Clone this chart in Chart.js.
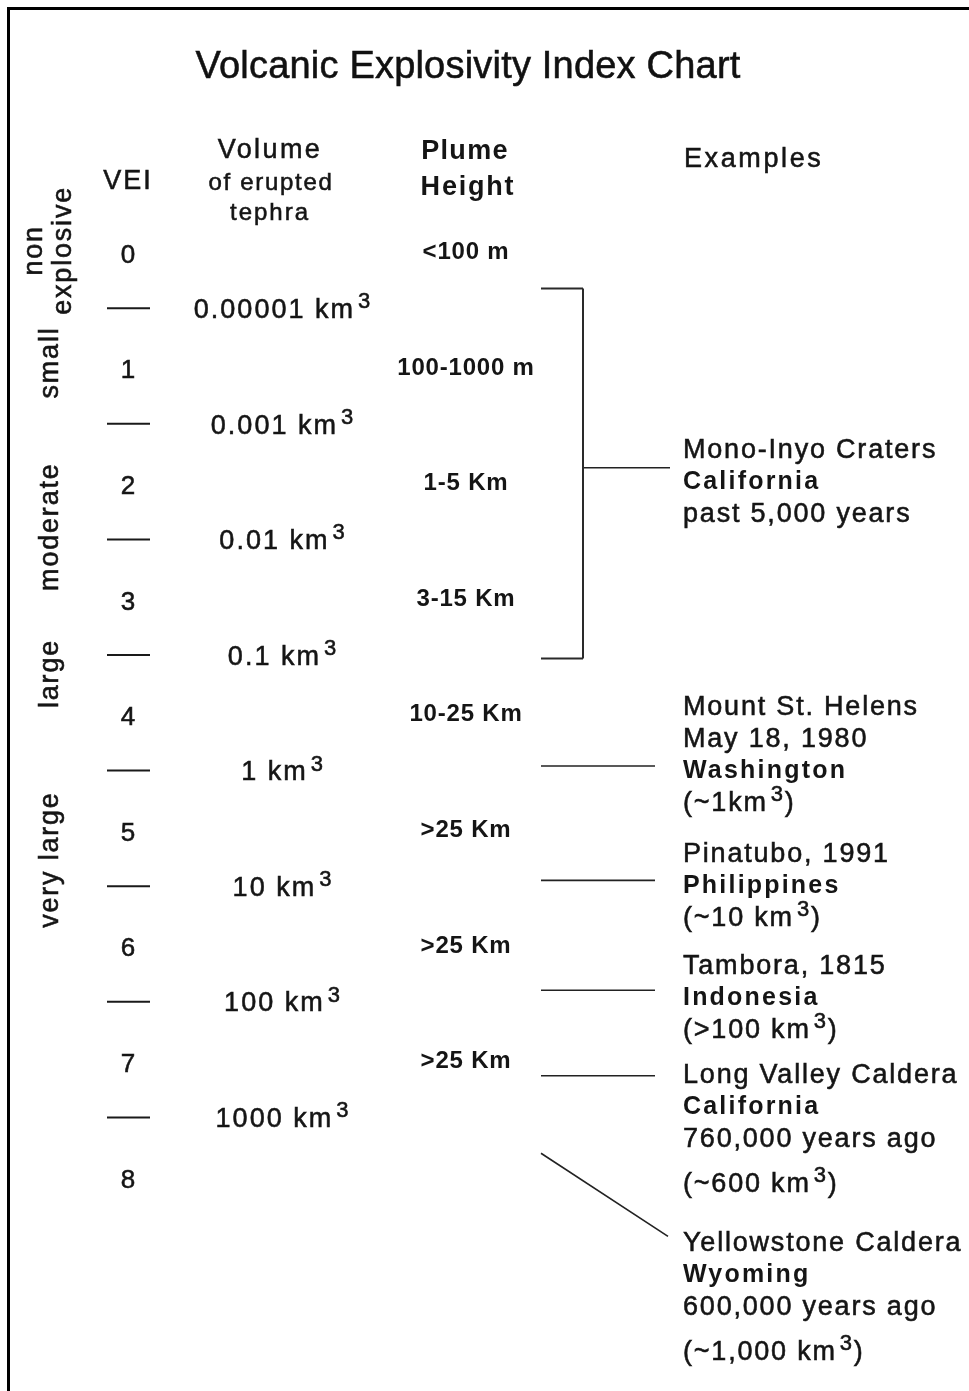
<!DOCTYPE html>
<html>
<head>
<meta charset="utf-8">
<title>Volcanic Explosivity Index Chart</title>
<script src="https://cdn.jsdelivr.net/npm/chart.js@4.4.1/dist/chart.umd.min.js"></script>
<style>
  html, body { margin: 0; padding: 0; background: #fff; }
  #wrap { position: relative; width: 969px; height: 1391px; }
  #frame {
    position: absolute; left: 7px; top: 7px; right: 0; bottom: 0;
    border-left: 3px solid #000; border-top: 3px solid #000;
    pointer-events: none;
  }
</style>
</head>
<body>
<div id="wrap">
  <canvas id="veiChart"></canvas>
  <div id="frame"></div>
</div>
<script>
// ---- data ----
const chartTitle = 'Volcanic Explosivity Index Chart';
const veiLevels = [0, 1, 2, 3, 4, 5, 6, 7, 8];
const sizeClasses = ['non\nexplosive', 'small', 'moderate', 'large', 'very large'];
const sizeClassAt = [0, 0.97, 2.39, 3.66, 5.27];          // VEI where the label is centred
const volumeBounds = [0.5, 1.5, 2.5, 3.5, 4.5, 5.5, 6.5, 7.5];
const volumeLabels = ['0.00001 km^3', '0.001 km^3', '0.01 km^3', '0.1 km^3',
                      '1 km^3', '10 km^3', '100 km^3', '1000 km^3'];
const plumeHeights = ['<100 m', '100-1000 m', '1-5 Km', '3-15 Km',
                      '10-25 Km', '>25 Km', '>25 Km', '>25 Km'];

const exampleNames = ['Mono-Inyo Craters', 'Mount St. Helens', 'Pinatubo, 1991',
                      'Tambora, 1815', 'Long Valley Caldera', 'Yellowstone Caldera'];
const exampleDates = ['', 'May 18, 1980', '', '', '', ''];
const exampleRegions = ['California', 'Washington', 'Philippines', 'Indonesia', 'California', 'Wyoming'];
const exampleAges = ['past 5,000 years', '', '', '', '760,000 years ago', '600,000 years ago'];
const exampleVolumes = ['', '(~1km^3)', '(~10 km^3)', '(>100 km^3)', '(~600 km^3)', '(~1,000 km^3)'];
// where each example's connector meets the scale (VEI units)
const exampleLinkFrom = [1.88, 4.46, 5.45, 6.40, 7.14, 7.81];
const exampleLinkTo = [1.88, 4.46, 5.45, 6.40, 7.14, 8.53];
const exampleSpans = [[0.33, 3.53], null, null, null, null, null];

// ---- layout (positions/styles, not data) ----
const FONT = '"Liberation Sans", Arial, Helvetica, sans-serif';
const INK = '#151515';
const col = {
  classX: 58, classLine1: 42, classLine2: 71,
  vei: 128, dash: [107, 150],
  volume: 283, plume: 466,
  bracket: [541, 583], linkStart: 541, textX: 683
};
const linkEndX = [670, 655, 655, 655, 655, 668];
const exampleTextAt = [1.709, 3.932, 5.204, 6.173, 7.116, 8.569];
const headers = [
  { t: 'VEI',        x: 128, y: -0.617, size: 27, weight: 'normal', sp: 2,   align: 'center' },
  { t: 'Volume',     x: 270, y: -0.886, size: 27, weight: 'normal', sp: 2.4, align: 'center' },
  { t: 'of erupted', x: 271, y: -0.600, size: 24, weight: 'normal', sp: 1.7, align: 'center' },
  { t: 'tephra',     x: 270, y: -0.340, size: 24, weight: 'normal', sp: 2,   align: 'center' },
  { t: 'Plume',      x: 465, y: -0.877, size: 27, weight: 'bold',   sp: 1.3, align: 'center' },
  { t: 'Height',     x: 468, y: -0.566, size: 27, weight: 'bold',   sp: 1.8, align: 'center' },
  { t: 'Examples',   x: 684, y: -0.808, size: 27, weight: 'normal', sp: 2.6, align: 'left' }
];

function seg(x0, y0, x1, y1, width, color) {
  return {
    data: [{ x: x0, y: y0 }, { x: x1, y: y1 }],
    showLine: true, borderColor: color || '#1a1a1a', borderWidth: width || 2,
    pointRadius: 0, pointHoverRadius: 0, fill: false, tension: 0
  };
}

const datasets = [];
volumeBounds.forEach(b => datasets.push(seg(col.dash[0], b, col.dash[1], b, 2)));
exampleNames.forEach((n, i) => {
  const span = exampleSpans[i];
  if (span) {
    datasets.push(seg(col.bracket[0], span[0], col.bracket[1], span[0], 2, '#2a2a2a'));
    datasets.push(seg(col.bracket[1], span[0], col.bracket[1], span[1], 2, '#2a2a2a'));
    datasets.push(seg(col.bracket[1], span[1], col.bracket[0], span[1], 2, '#2a2a2a'));
    datasets.push(seg(col.bracket[1], exampleLinkFrom[i], linkEndX[i], exampleLinkTo[i], 1.6, '#222'));
  } else {
    datasets.push(seg(col.linkStart, exampleLinkFrom[i], linkEndX[i], exampleLinkTo[i], 1.6, '#222'));
  }
});

// text with "^3" superscripts, py = vertical centre of capitals
function drawRich(ctx, str, px, py, o) {
  const size = o.size, weight = o.weight || 'normal';
  const mainFont = weight + ' ' + size + 'px ' + FONT;
  const supFont = weight + ' ' + Math.round(size * 0.8) + 'px ' + FONT;
  const supGap = 3;
  const parts = [];
  str.split('^').forEach((p, i) => {
    if (i === 0) { if (p) parts.push({ t: p, sup: false }); return; }
    parts.push({ t: p[0], sup: true });
    if (p.length > 1) parts.push({ t: p.slice(1), sup: false });
  });
  ctx.letterSpacing = (o.sp || 0) + 'px';
  let total = 0;
  parts.forEach(p => {
    ctx.font = p.sup ? supFont : mainFont;
    p.w = ctx.measureText(p.t).width + (p.sup ? supGap : 0);
    total += p.w;
  });
  let cx = px;
  if (o.align === 'center') cx = px - total / 2;
  const base = py + size * 0.36;
  ctx.textAlign = 'left';
  ctx.textBaseline = 'alphabetic';
  ctx.fillStyle = o.color || INK;
  ctx.strokeStyle = o.color || INK;
  ctx.lineWidth = 0.55;
  parts.forEach(p => {
    ctx.font = p.sup ? supFont : mainFont;
    const tx = cx + (p.sup ? supGap : 0);
    const by = p.sup ? base - size * 0.36 : base;
    ctx.fillText(p.t, tx, by);
    if (weight === 'normal') ctx.strokeText(p.t, tx, by);
    cx += p.w;
  });
}

const veiText = {
  id: 'veiText',
  afterDatasetsDraw(chart) {
    const { ctx, scales: { x, y } } = chart;
    ctx.save();

    drawRich(ctx, chartTitle, 468, y.getPixelForValue(-1.612), { size: 38, sp: 0.2, align: 'center', color: '#111' });

    headers.forEach(h => drawRich(ctx, h.t, x.getPixelForValue(h.x), y.getPixelForValue(h.y),
      { size: h.size, weight: h.weight, sp: h.sp, align: h.align }));

    // rotated size classes
    sizeClasses.forEach((label, i) => {
      const lines = label.split('\n');
      const cy = y.getPixelForValue(sizeClassAt[i]);
      lines.forEach((ln, j) => {
        const bx = lines.length > 1 ? (j === 0 ? col.classLine1 : col.classLine2) : col.classX;
        ctx.save();
        ctx.translate(x.getPixelForValue(bx), cy);
        ctx.rotate(-Math.PI / 2);
        ctx.font = 'normal 27px ' + FONT;
        ctx.letterSpacing = '1.8px';
        ctx.fillStyle = INK;
        ctx.strokeStyle = INK;
        ctx.lineWidth = 0.55;
        ctx.textAlign = 'center';
        ctx.textBaseline = 'alphabetic';
        ctx.fillText(ln, 0, 0);
        ctx.strokeText(ln, 0, 0);
        ctx.restore();
      });
    });

    veiLevels.forEach(v => drawRich(ctx, String(v), x.getPixelForValue(col.vei), y.getPixelForValue(v) + 3,
      { size: 26, align: 'center' }));

    volumeLabels.forEach((lab, i) => drawRich(ctx, lab, x.getPixelForValue(col.volume),
      y.getPixelForValue(volumeBounds[i]), { size: 27, sp: 2, align: 'center' }));

    plumeHeights.forEach((lab, i) => drawRich(ctx, lab, x.getPixelForValue(col.plume),
      y.getPixelForValue(veiLevels[i]), { size: 24, weight: 'bold', sp: 0.8, align: 'center' }));

    // example blocks
    exampleNames.forEach((name, i) => {
      const lx = x.getPixelForValue(col.textX);
      let py = y.getPixelForValue(exampleTextAt[i]);
      const rows = [{ t: name, bold: false }];
      if (exampleDates[i]) rows.push({ t: exampleDates[i] });
      rows.push({ t: exampleRegions[i], bold: true });
      if (exampleAges[i]) rows.push({ t: exampleAges[i] });
      if (exampleVolumes[i]) rows.push({ t: exampleVolumes[i], wide: !!exampleAges[i] });
      rows.forEach((r, k) => {
        if (k > 0) py += r.wide ? 45 : 32;
        if (r.bold) drawRich(ctx, r.t, lx, py, { size: 25, weight: 'bold', sp: 2.2 });
        else drawRich(ctx, r.t, lx, py, { size: 27, sp: 1.8 });
      });
    });

    ctx.restore();
  }
};

new Chart(document.getElementById('veiChart'), {
  type: 'scatter',
  data: { datasets: datasets },
  options: {
    responsive: true,
    maintainAspectRatio: false,
    animation: false,
    events: [],
    layout: { padding: 0, autoPadding: false },
    plugins: { legend: { display: false }, tooltip: { enabled: false }, title: { display: false } },
    scales: {
      x: { type: 'linear', min: 0, max: 969, display: false },
      y: { type: 'linear', min: -2.166, max: 9.867, reverse: true, display: false }
    }
  },
  plugins: [veiText]
});
</script>
</body>
</html>
